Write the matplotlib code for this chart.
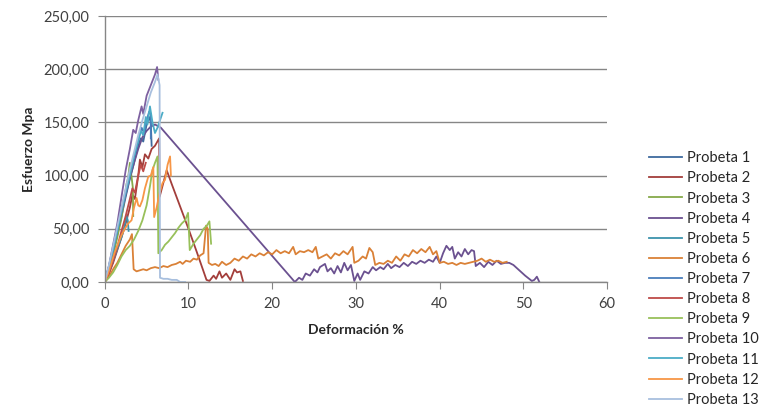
import matplotlib
matplotlib.use("Agg")
import matplotlib.pyplot as plt
from matplotlib.ticker import FuncFormatter

plt.rcParams['font.family'] = ['Lato', 'DejaVu Sans']

# deformacion (%) and esfuerzo (MPa) for each probeta
p1_x = [0, 0.5, 1, 1.5, 2, 2.5, 3, 3.5, 4, 4.3, 4.6, 5, 5.3, 5.5, 5.6]
p1_y = [0, 12, 28, 45, 62, 80, 97, 112, 128, 135, 132, 148, 155, 150, 128]

p2_x = [0, 0.5, 1, 1.5, 2, 2.5, 3, 3.3, 3.6, 4, 4.2, 4.5, 4.8, 5.2, 5.6, 6.0, 6.5, 6.55,
        7.4, 8, 9, 10, 11, 12.15, 12.5, 13, 13.3, 13.7, 14, 14.5, 15, 15.5, 15.8, 16.2, 16.5]
p2_y = [0, 8, 18, 30, 42, 55, 70, 82, 78, 100, 115, 108, 120, 116, 125, 128, 135, 80,
        105, 92, 71, 50, 28, 2, 1, 6, 3, 10, 4, 8, 2, 12, 9, 10, 1]

p3_x = [0, 0.5, 1, 1.5, 2, 2.3, 2.6, 2.8, 3.0, 3.35, 3.4]
p3_y = [0, 10, 25, 42, 60, 75, 92, 98, 112, 89, 62]

p4_x = [0, 0.5, 1, 1.5, 2, 2.5, 3, 3.5, 4, 4.5, 5, 5.5, 6, 6.7, 22.7,
        23.2, 23.6, 24, 24.5, 25, 25.4, 25.7, 26.3, 26.6, 27, 27.4, 27.8, 28.2, 28.6, 29, 29.4,
        29.8, 30.2, 30.5, 31, 31.5, 32, 32.4, 32.9, 33.3, 33.8, 34.2, 34.7, 35.2, 35.7, 36.2,
        36.7, 37.2, 37.7, 38.2, 38.7, 39.2, 39.6, 40, 40.4, 40.8, 41.2, 41.5, 41.8, 42.2, 42.6,
        43, 43.4, 43.8, 44.1, 44.3, 44.8, 45.3, 45.8, 46.3, 46.8, 47.3, 47.8, 48.3, 48.8, 49.5,
        50.2, 51.0, 51.3, 51.6, 51.9]
p4_y = [0, 14, 30, 48, 65, 82, 98, 112, 125, 136, 142, 146, 148, 145, 0,
        4, 2, 8, 6, 12, 9, 14, 17, 10, 13, 8, 15, 9, 18, 11, 16,
        1, 8, 2, 10, 8, 14, 11, 14, 12, 17, 13, 16, 14, 18, 15,
        19, 17, 20, 18, 21, 19, 24, 18, 27, 34, 30, 33, 22, 28, 24,
        31, 26, 30, 29, 15, 18, 14, 19, 16, 20, 17, 18, 18, 16, 11,
        6, 1, 2, 5, 0]

p5_x = [0, 0.5, 1, 1.5, 2, 2.3, 2.6, 2.75, 2.85]
p5_y = [0, 9, 20, 31, 42, 50, 62, 58, 48]

p6_x = [0, 0.5, 1, 1.5, 2, 2.5, 3.0, 3.25, 3.45, 3.8, 4.2, 4.6, 5, 5.5, 6, 6.5, 7, 7.5, 8,
        8.5, 9, 9.3, 9.7, 10.2, 10.6, 11, 11.4, 11.8, 12.1, 12.3, 12.4, 12.8, 13.2, 13.6, 14,
        14.5, 15, 15.5, 16, 16.5, 17, 17.5, 18, 18.5, 19, 19.5, 20, 20.5, 21, 21.5, 22, 22.5,
        22.8, 23.3, 23.8, 24.3, 24.8, 25.2, 25.5, 26, 26.5, 27, 27.5, 28, 28.5, 29, 29.6, 29.8,
        30.3, 30.8, 31.2, 31.6, 32, 32.3, 32.8, 33.3, 33.8, 34.3, 34.8, 35.3, 35.8, 36.3, 36.8,
        37.3, 37.8, 38.3, 38.8, 39.2, 39.6, 40, 40.5, 41, 41.5, 42, 42.5, 43, 43.5, 44, 44.5,
        45, 45.5, 46, 46.5, 47, 47.5, 48]
p6_y = [0, 5, 12, 18, 26, 34, 40, 45, 12, 10, 11, 12, 11, 13, 14, 13, 15, 14, 16,
        17, 19, 17, 20, 19, 22, 21, 25, 27, 53, 50, 18, 16, 17, 15, 19,
        16, 18, 22, 20, 24, 22, 26, 24, 27, 25, 28, 26, 30, 27, 29, 27, 33,
        26, 29, 28, 30, 28, 33, 22, 24, 26, 22, 27, 25, 29, 26, 33, 18,
        20, 24, 22, 32, 28, 16, 18, 17, 20, 18, 24, 20, 26, 24, 30,
        27, 31, 28, 33, 26, 29, 18, 19, 17, 18, 16, 18, 17, 18, 19, 20,
        22, 19, 21, 19, 20, 18, 19]

p7_x = [0, 0.5, 1, 1.5, 2, 2.5, 3, 3.5, 4, 4.4, 4.7, 5, 5.3, 5.5, 5.5]
p7_y = [0, 15, 32, 50, 68, 86, 103, 118, 133, 145, 140, 152, 160, 158, 135]

p8_x = [0, 0.5, 1, 1.5, 2, 2.5, 3, 3.3, 3.6, 4, 4.3, 4.6, 4.9]
p8_y = [0, 8, 20, 33, 48, 62, 78, 88, 84, 100, 110, 104, 112]

p9_x = [0, 0.5, 1, 1.5, 2, 2.5, 3, 3.5, 4, 4.5, 5, 5.4, 5.7, 6.0, 6.3, 6.4, 6.8, 7.2, 7.6,
        8, 8.4, 8.8, 9.2, 9.6, 9.95, 10.15, 10.6, 11, 11.4, 11.8, 12.2, 12.5, 12.7]
p9_y = [0, 4, 9, 16, 24, 30, 34, 40, 48, 58, 72, 90, 105, 112, 118, 27, 30, 35, 38,
        42, 46, 51, 55, 58, 65, 30, 36, 40, 44, 50, 53, 57, 36]

p10_x = [0, 0.5, 1, 1.5, 2, 2.5, 3, 3.4, 3.7, 4.0, 4.4, 4.6, 5.0, 5.5, 6.0, 6.25, 6.4]
p10_y = [0, 15, 35, 55, 80, 105, 125, 143, 140, 152, 165, 158, 175, 185, 195, 202, 190]

p11_x = [0, 0.5, 1, 1.5, 2, 2.5, 3, 3.5, 4, 4.3, 4.6, 4.9, 5.1, 5.4, 5.7, 6.0, 6.3, 6.6, 6.9]
p11_y = [0, 14, 30, 48, 66, 84, 100, 118, 133, 142, 138, 155, 148, 165, 150, 140, 145, 152, 159]

p12_x = [0, 0.4, 0.8, 1.2, 1.6, 2, 2.4, 2.8, 3.2, 3.5, 3.8, 4.0, 4.2, 4.5, 4.8, 5.2, 5.5,
         5.8, 5.9, 6.2, 6.5, 6.9, 7.2, 7.5, 7.8, 7.9]
p12_y = [0, 8, 18, 28, 36, 44, 50, 55, 58, 70, 79, 72, 71, 77, 88, 99, 100,
         108, 61, 70, 82, 93, 96, 110, 118, 100]

p13_x = [0, 0.5, 1, 1.5, 2, 2.5, 3, 3.5, 4, 4.5, 5, 5.5, 6, 6.3, 6.55, 6.6, 7, 7.5, 8, 8.6, 9.0, 9.6]
p13_y = [0, 16, 34, 52, 70, 88, 106, 122, 138, 152, 165, 178, 188, 195, 185, 4, 3, 3, 2, 2, 0, 0]

series = [
    (p1_x, p1_y, '#3E6A9E'),
    (p2_x, p2_y, '#A33E3B'),
    (p3_x, p3_y, '#86A94A'),
    (p4_x, p4_y, '#6B5190'),
    (p5_x, p5_y, '#3D93AC'),
    (p6_x, p6_y, '#DA8137'),
    (p7_x, p7_y, '#4A7EBB'),
    (p8_x, p8_y, '#BE4B48'),
    (p9_x, p9_y, '#98C05A'),
    (p10_x, p10_y, '#7D60A0'),
    (p11_x, p11_y, '#4BACC6'),
    (p12_x, p12_y, '#F79646'),
    (p13_x, p13_y, '#A8BFDE'),
]

fig = plt.figure(figsize=(7.59, 4.09), dpi=100)
ax = fig.add_axes([0.138, 0.3105, 0.662, 0.6505])

for i, (xs, ys, c) in enumerate(series):
    ax.plot(xs, ys, color=c, lw=1.3, label='Probeta ' + str(i + 1))

ax.set_xlim(0, 60)
ax.set_ylim(0, 250)
ax.set_xticks(range(0, 61, 10))
ax.set_yticks(range(0, 251, 50))
ax.yaxis.set_major_formatter(FuncFormatter(lambda v, p: ('%.2f' % v).replace('.', ',')))
ax.yaxis.grid(True, color='#868686', lw=1)
ax.set_axisbelow(True)

for s in ['top', 'right']:
    ax.spines[s].set_visible(False)
for s in ['left', 'bottom']:
    ax.spines[s].set_color('#868686')
    ax.spines[s].set_linewidth(1)
ax.tick_params(direction='out', length=5, color='#868686', labelsize=10.5, labelcolor='#404040', pad=6)

ax.set_xlabel('Deformación %', fontsize=10, fontweight='bold', color='#262626', labelpad=9)
ax.set_ylabel('Esfuerzo Mpa', fontsize=10, fontweight='bold', color='#262626', labelpad=6)

fig.legend(loc='upper left', bbox_to_anchor=(0.845, 0.648), frameon=False,
           fontsize=10.5, handlelength=2.3, handletextpad=0.3, labelspacing=0.42,
           borderpad=0, labelcolor='#262626')

fig.savefig('out.png', dpi=100)
